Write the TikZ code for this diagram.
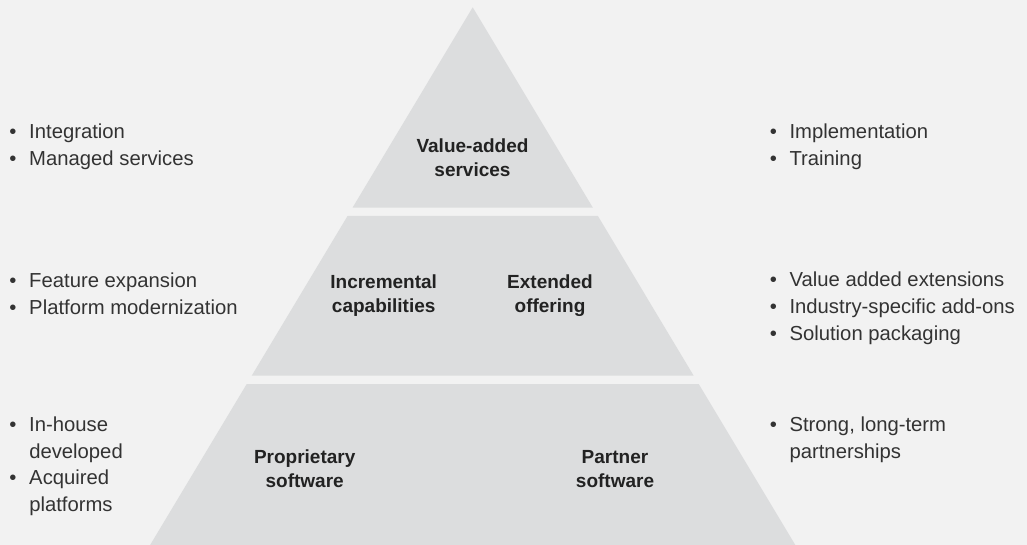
\documentclass[tikz,border=0pt]{standalone}
\usepackage{fontspec}
\setmainfont{Liberation Sans}
\definecolor{bgcol}{HTML}{F2F2F2}
\definecolor{layercol}{HTML}{DCDDDE}
\definecolor{txtcol}{HTML}{333333}
\definecolor{lblcol}{HTML}{222222}
\newcommand{\bul}[1]{\makebox[14.85pt][l]{\textbullet}#1}
\newcommand{\ind}[1]{\hspace*{14.85pt}#1}
\tikzset{
  layer/.style={fill=layercol},
  lbl/.style={align=center, anchor=base, inner sep=0pt, text=lblcol,
    font=\fontsize{14.25}{18}\selectfont\bfseries},
  notes/.style={align=left, anchor=base west, inner sep=0pt, text=txtcol,
    font=\fontsize{15.2}{19.9}\selectfont},
}
\begin{document}
\begin{tikzpicture}[x=0.75pt,y=-0.75pt]
  \fill[bgcol] (0,0) rectangle (1027,545);
  \useasboundingbox (0,0) rectangle (1027,545);
  % pyramid layers
  \fill[layer] (472.7,7.3) -- (592.9,207.7) -- (352.5,207.7) -- cycle;
  \fill[layer] (347.5,216) -- (597.9,216) -- (693.7,375.7) -- (251.7,375.7) -- cycle;
  \fill[layer] (246.7,384) -- (698.7,384) -- (795.3,545) -- (150.1,545) -- cycle;
  % layer labels (placed at the baseline of their last line)
  \node[lbl] (valueadded) at (472.5,177) {Value-added\\services};
  \node[lbl] (incremental) at (383.7,312) {Incremental\\capabilities};
  \node[lbl] (extended) at (550,312) {Extended\\offering};
  \node[lbl] (proprietary) at (304.7,487) {Proprietary\\software};
  \node[lbl] (partner) at (615,487) {Partner\\software};
  % left notes
  \node[notes] (servicesL) at (9.2,165.5) {\bul{Integration}\\\bul{Managed services}};
  \node[notes] (capabilitiesL) at (9.2,314.5) {\bul{Feature expansion}\\\bul{Platform modernization}};
  \node[notes] (softwareL) at (9.2,511.5) {\bul{In-house}\\\ind{developed}\\\bul{Acquired}\\\ind{platforms}};
  % right notes
  \node[notes] (servicesR) at (769.5,165.5) {\bul{Implementation}\\\bul{Training}};
  \node[notes] (offeringR) at (769.5,340) {\bul{Value added extensions}\\\bul{Industry-specific add-ons}\\\bul{Solution packaging}};
  \node[notes] (softwareR) at (769.5,458.5) {\bul{Strong, long-term}\\\ind{partnerships}};
\end{tikzpicture}
\end{document}
